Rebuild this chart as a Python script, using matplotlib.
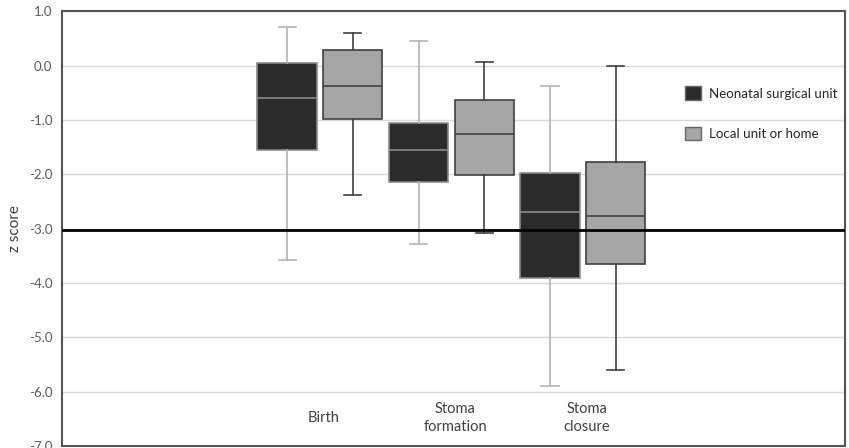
import matplotlib
matplotlib.use("Agg")
import matplotlib.pyplot as plt
from matplotlib.patches import Patch

plt.rcParams["font.family"] = ["Lato", "DejaVu Sans"]
plt.rcParams["axes.unicode_minus"] = False

groups = ["Birth", "Stoma\nformation", "Stoma\nclosure"]
series = ["Neonatal surgical unit", "Local unit or home"]

# neonatal surgical unit
nsu_whislo = [-3.57, -3.29, -5.90]
nsu_q1 = [-1.55, -2.14, -3.90]
nsu_med = [-0.60, -1.56, -2.70]
nsu_q3 = [0.05, -1.06, -1.97]
nsu_whishi = [0.71, 0.45, -0.38]

# local unit or home
loc_whislo = [-2.38, -3.08, -5.59]
loc_q1 = [-0.98, -2.01, -3.65]
loc_med = [-0.38, -1.26, -2.77]
loc_q3 = [0.28, -0.64, -1.77]
loc_whishi = [0.60, 0.07, 0.00]

ref_line = -3.02
yticks = [1, 0, -1, -2, -3, -4, -5, -6, -7]


def stats(lo, q1, med, q3, hi):
    return [dict(whislo=a, q1=b, med=c, q3=d, whishi=e, fliers=[])
            for a, b, c, d, e in zip(lo, q1, med, q3, hi)]


fig = plt.figure(figsize=(8.49, 4.48), dpi=100)
ax = fig.add_axes([0.073, 0.004, 0.922, 0.971])

pos = [i + 1 for i in range(len(groups))]
off = 0.25
w = 0.45

ax.bxp(stats(nsu_whislo, nsu_q1, nsu_med, nsu_q3, nsu_whishi),
       positions=[p - off for p in pos], widths=w, capwidths=0.13,
       patch_artist=True, showfliers=False,
       boxprops=dict(facecolor="#2b2b2b", edgecolor="#8a8a8a", linewidth=1.2),
       medianprops=dict(color="#8c8c8c", linewidth=1.2),
       whiskerprops=dict(color="#b3b3b3", linewidth=1.2),
       capprops=dict(color="#b3b3b3", linewidth=1.2), zorder=3)

ax.bxp(stats(loc_whislo, loc_q1, loc_med, loc_q3, loc_whishi),
       positions=[p + off for p in pos], widths=w, capwidths=0.13,
       patch_artist=True, showfliers=False,
       boxprops=dict(facecolor="#a6a6a6", edgecolor="#404040", linewidth=1.2),
       medianprops=dict(color="#404040", linewidth=1.2),
       whiskerprops=dict(color="#404040", linewidth=1.2),
       capprops=dict(color="#404040", linewidth=1.2), zorder=3)

ax.axhline(ref_line, color="black", linewidth=2, zorder=5)

for p, g in zip(pos, groups):
    ax.text(p + 0.03, -6.48, g, ha="center", va="center", fontsize=10.5,
            color="#404040", linespacing=1.3)

ax.set_xlim(-0.962, 4.992)
ax.set_ylim(-7, 1)
ax.set_yticks(yticks)
ax.set_yticklabels([f"{v:.1f}" for v in yticks])
ax.set_xticks([])
ax.tick_params(axis="y", length=0, pad=7, labelsize=9.5, labelcolor="#595959")
ax.grid(axis="y", color="#d9d9d9", linewidth=1, zorder=0)
ax.set_axisbelow(True)
ax.set_ylabel("z score", fontsize=11, color="#404040", labelpad=5)

for s in ax.spines.values():
    s.set_color("#555555")
    s.set_linewidth(1.5)

handles = [Patch(facecolor="#2b2b2b", edgecolor="#666666"),
           Patch(facecolor="#a6a6a6", edgecolor="#666666")]
ax.legend(handles, series, loc="upper left", bbox_to_anchor=(0.78, 0.855),
          frameon=False, handlelength=1.2, handleheight=1.2, handletextpad=0.6,
          labelspacing=2.0, fontsize=9.6, labelcolor="#262626")

fig.savefig("out.png", dpi=100)
